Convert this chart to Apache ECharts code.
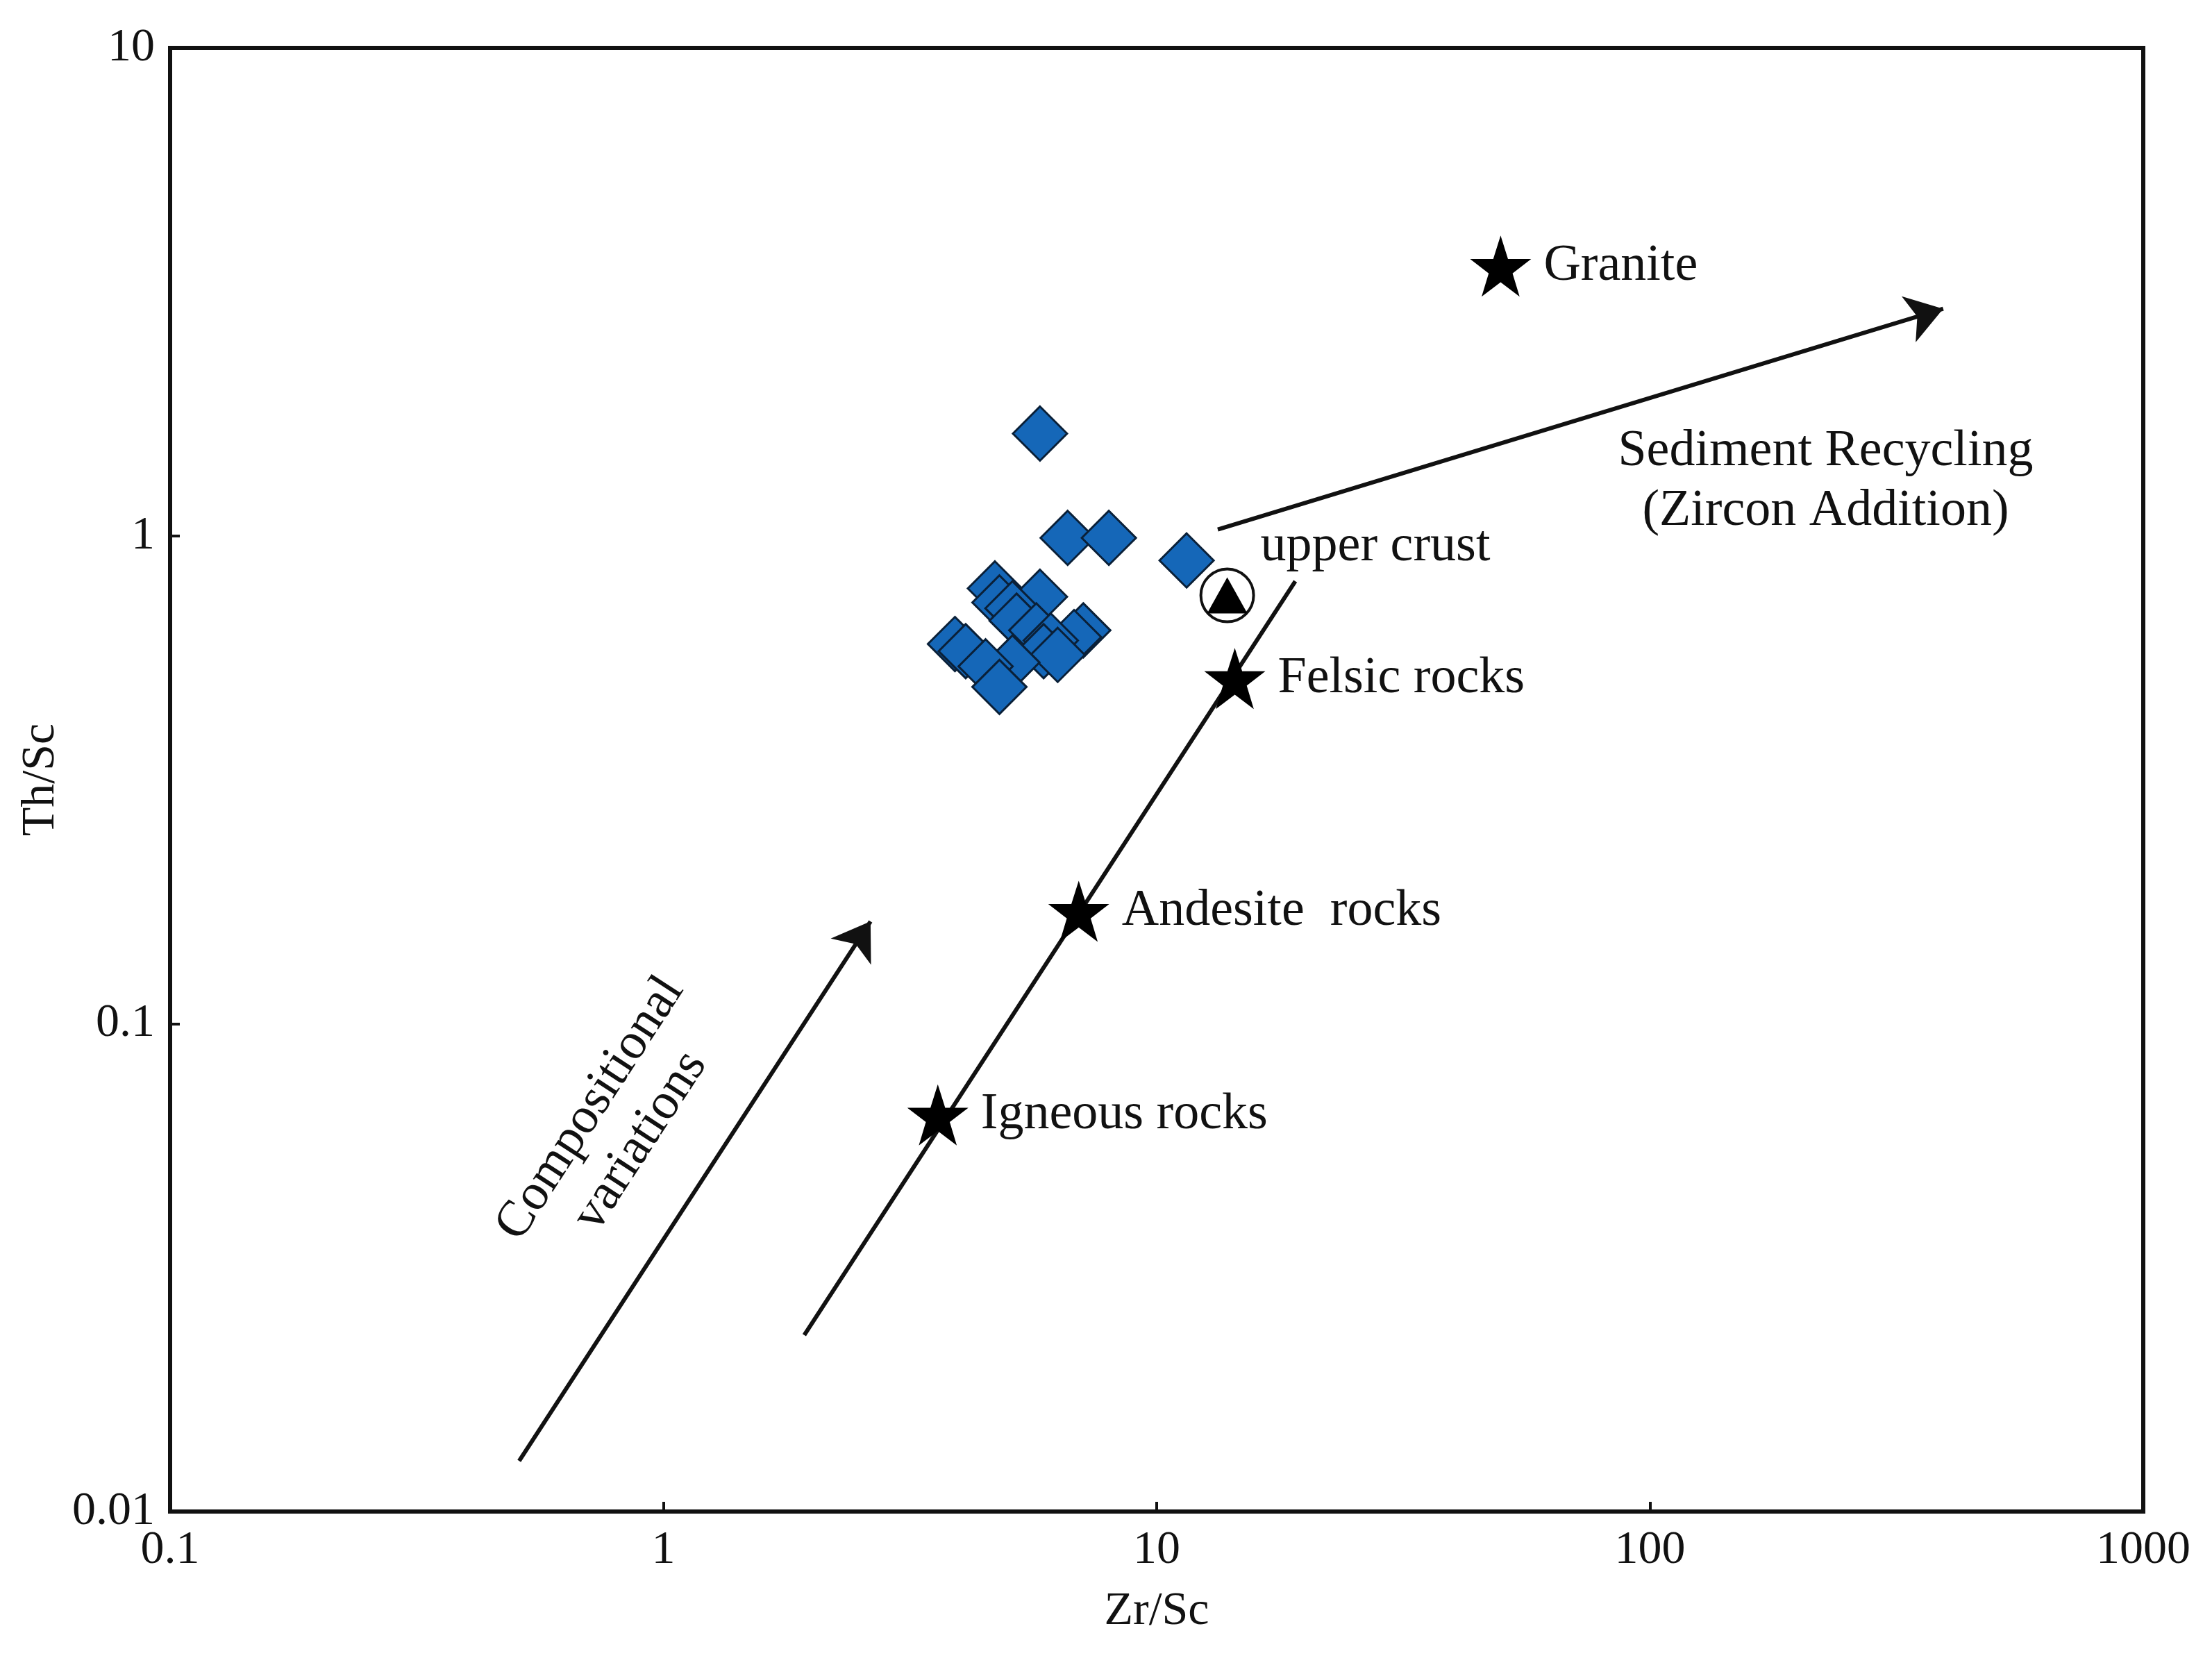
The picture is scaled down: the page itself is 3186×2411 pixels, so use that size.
<!DOCTYPE html><html><head><meta charset="utf-8">
<script src="https://cdn.jsdelivr.net/npm/echarts@6/dist/echarts.min.js"></script>
<style>html,body{margin:0;background:#fff}#c{width:3186px;height:2411px}</style></head><body><div id="c"></div>
<script>
const samples=[[5.8,1.62],[6.6,0.99],[8.0,0.99],[11.5,0.89],[4.7,0.78],[5.8,0.75],[4.8,0.73],[5.1,0.71],[3.9,0.60],[4.1,0.58],[5.2,0.67],[5.7,0.64],[7.1,0.64],[6.8,0.62],[6.1,0.61],[5.9,0.58],[6.3,0.57],[5.1,0.55],[4.5,0.54],[4.8,0.49]];
const stars=[[49.8,3.57,'Granite'],[14.4,0.51,'Felsic rocks'],[6.95,0.17,'Andesite  rocks'],[3.6,0.065,'Igneous rocks']];
const upperCrust=[[13.9,0.755,'upper crust']];
const trendLine=[[1.93,0.023],[19.1,0.807]];
const compArrow=[[0.51,0.0127],[2.63,0.162]];
const recycleArrow=[[13.3,1.03],[393,2.92]];
const xTicks=['0.1','1','10','100','1000'];
const yTicks=['0.01','0.1','1','10'];
const F='Liberation Serif';
const TC='#111';
const chart=echarts.init(document.getElementById('c'));
const ax={type:'log',logBase:10,axisLine:{lineStyle:{color:'#111',width:6}},axisTick:{inside:true,length:14,lineStyle:{width:4,color:'#111'}},splitLine:{show:false},minorTick:{show:false},axisLabel:{fontFamily:F,fontSize:68,color:TC},nameTextStyle:{fontFamily:F,fontSize:68,color:TC}};
const lab=(t,extra)=>Object.assign({show:true,formatter:t,fontFamily:F,fontSize:74,color:TC},extra||{});
chart.setOption({
animation:false,
grid:{left:245,right:99,top:69,bottom:234,show:true,borderColor:'#111',borderWidth:6},
xAxis:Object.assign({},ax,{min:0.1,max:1000,name:'Zr/Sc',nameLocation:'middle',nameGap:110,axisLabel:Object.assign({},ax.axisLabel,{margin:22,formatter:v=>xTicks.find(t=>Math.abs(+t-v)<1e-6*v)||''})}),
yAxis:Object.assign({},ax,{min:0.01,max:10,name:'Th/Sc',nameLocation:'middle',nameGap:125,axisLabel:Object.assign({},ax.axisLabel,{margin:22,formatter:v=>yTicks.find(t=>Math.abs(+t-v)<1e-6*v)||''})}),
series:[
{type:'lines',coordinateSystem:'cartesian2d',symbol:['none','arrow'],symbolSize:[0,52],lineStyle:{color:'#111',width:6,opacity:1},
 data:[{coords:compArrow},{coords:recycleArrow}],z:3},
{type:'lines',coordinateSystem:'cartesian2d',symbol:['none','none'],lineStyle:{color:'#111',width:6,opacity:1},data:[{coords:trendLine}],z:3},
{type:'scatter',symbol:'diamond',symbolSize:[78,78],itemStyle:{color:'#1567b8',borderColor:'#0a2038',borderWidth:3,opacity:1},data:samples,z:5},
{type:'scatter',symbol:'path://M50,0 L61.8,35.3 L98.9,35.3 L69.1,57.1 L80.4,92.5 L50,70.7 L19.6,92.5 L30.9,57.1 L1.1,35.3 L38.2,35.3 Z',symbolSize:88,itemStyle:{color:'#000',opacity:1},
 data:stars.map(s=>({value:[s[0],s[1]],label:lab(s[2],{position:'right',distance:18})})),z:6},
{type:'scatter',symbol:'circle',symbolSize:76,itemStyle:{color:'#fff',borderColor:'#111',borderWidth:4,opacity:1},data:upperCrust.map(s=>[s[0],s[1]]),z:6},
{type:'scatter',symbol:'triangle',symbolSize:[58,52],itemStyle:{color:'#000',opacity:1},
 data:upperCrust.map(s=>({value:[s[0],s[1]],label:lab(s[2],{position:'right',offset:[14,-70]})})),z:7},
{type:'scatter',symbolSize:0,itemStyle:{opacity:1},data:[{value:[227,1.29],label:lab('Sediment Recycling\n(Zircon Addition)',{position:'inside',align:'center',lineHeight:86})},
 {value:[0.80,0.062],label:lab('Compositional\nvariations',{position:'inside',rotate:57,align:'center',lineHeight:86})}],z:8}
]});
</script></body></html>
